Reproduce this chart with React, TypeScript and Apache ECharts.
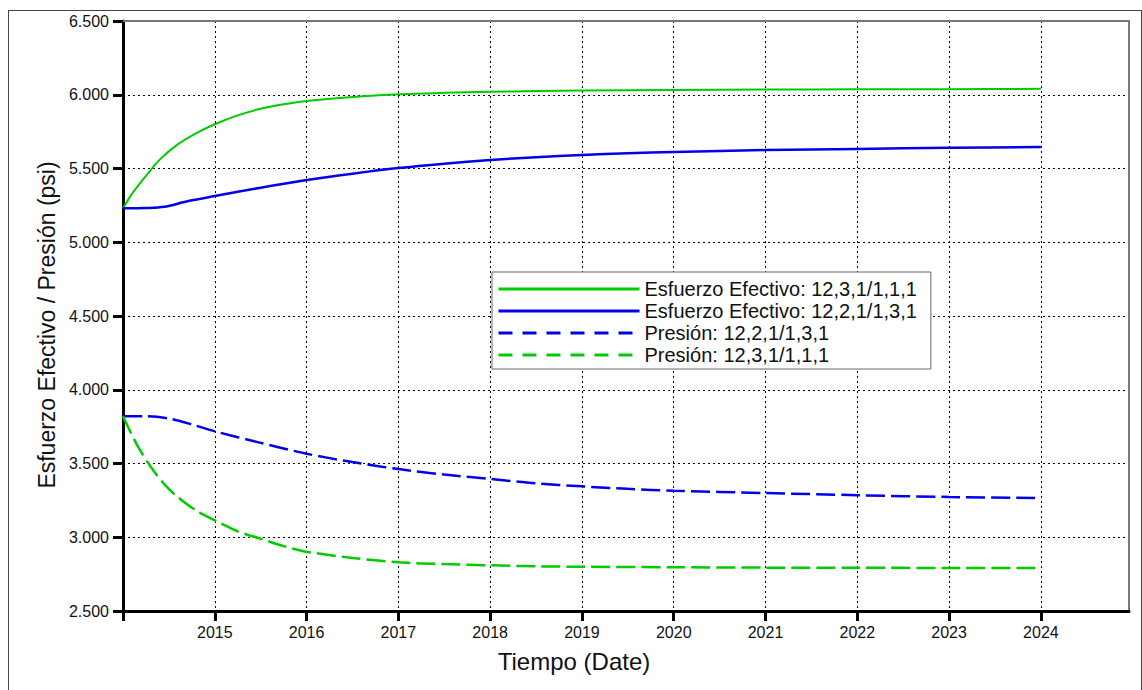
import React, { useEffect, useRef } from "react";
import * as echarts from "echarts";

const GREEN = "#00cc00";
const BLUE = "#0000ee";

const yearTicks = [2014, 2015, 2016, 2017, 2018, 2019, 2020, 2021, 2022, 2023, 2024];

const seriesNames = [
  "Esfuerzo Efectivo: 12,3,1/1,1,1",
  "Esfuerzo Efectivo: 12,2,1/1,3,1",
  "Presión: 12,2,1/1,3,1",
  "Presión: 12,3,1/1,1,1",
];

// [year, psi]
const esfuerzoGreen: [number, number][] = [
  [2014.0, 5230], [2014.1, 5330], [2014.25, 5450], [2014.4, 5560], [2014.6, 5665],
  [2014.8, 5740], [2015.0, 5800], [2015.25, 5860], [2015.5, 5905], [2015.75, 5935],
  [2016.0, 5958], [2016.5, 5985], [2017.0, 6003], [2017.5, 6013], [2018.0, 6020],
  [2018.5, 6025], [2019.0, 6028], [2020.0, 6032], [2021.0, 6035], [2022.0, 6037],
  [2023.0, 6038], [2024.0, 6040],
];

const esfuerzoBlue: [number, number][] = [
  [2014.0, 5230], [2014.25, 5232], [2014.45, 5240], [2014.7, 5278], [2015.0, 5313],
  [2015.5, 5370], [2016.0, 5422], [2016.5, 5465], [2017.0, 5503], [2017.5, 5533],
  [2018.0, 5558], [2018.5, 5577], [2019.0, 5592], [2019.5, 5603], [2020.0, 5612],
  [2021.0, 5625], [2022.0, 5633], [2023.0, 5640], [2024.0, 5646],
];

const presionBlue: [number, number][] = [
  [2014.0, 3820], [2014.25, 3820], [2014.5, 3805], [2014.75, 3765], [2015.0, 3718],
  [2015.5, 3640], [2016.0, 3566], [2016.5, 3510], [2017.0, 3462], [2017.5, 3425],
  [2018.0, 3395], [2018.5, 3365], [2019.0, 3345], [2019.5, 3328], [2020.0, 3315],
  [2021.0, 3300], [2022.0, 3285], [2023.0, 3273], [2024.0, 3266],
];

const presionGreen: [number, number][] = [
  [2014.0, 3820], [2014.15, 3630], [2014.3, 3480], [2014.45, 3360], [2014.6, 3270],
  [2014.8, 3180], [2015.0, 3115], [2015.25, 3040], [2015.5, 2990], [2015.75, 2940],
  [2016.0, 2902], [2016.5, 2860], [2017.0, 2830], [2017.5, 2818], [2018.0, 2810],
  [2018.5, 2803], [2019.0, 2800], [2020.0, 2797], [2021.0, 2794], [2022.0, 2793],
  [2023.0, 2792], [2024.0, 2792],
];

const FONT = "Liberation Sans, Arial, sans-serif";

function fmtThousands(v: number): string {
  const th = Math.floor(v / 1000);
  const rest = Math.round(v % 1000);
  return th + "." + String(rest).padStart(3, "0");
}

export default function App() {
  const ref = useRef<HTMLDivElement>(null);
  useEffect(() => {
    if (!ref.current) return;
    const chart = echarts.init(ref.current, null, { renderer: "svg" });
    const dash = [19, 6];
    const legendDash = [14, 10];
    chart.setOption({
      animation: false,
      grid: {
        left: 123,
        top: 21,
        right: 13,
        bottom: 79,
      },
      legend: {
        orient: "vertical",
        left: 492,
        top: 272,
        padding: [7, 14, 4, 5],
        borderColor: "#666666",
        borderWidth: 1,
        backgroundColor: "#ffffff",
        itemWidth: 141,
        itemHeight: 14,
        itemGap: 2,
        itemStyle: { opacity: 0 },
        textStyle: { fontFamily: FONT, fontSize: 20, color: "#111111", lineHeight: 19 },
        data: [
          { name: seriesNames[0], lineStyle: { width: 3 } },
          { name: seriesNames[1], lineStyle: { width: 3 } },
          { name: seriesNames[2], lineStyle: { width: 3, type: legendDash } },
          { name: seriesNames[3], lineStyle: { width: 3, type: legendDash } },
        ],
      },
      xAxis: [
        {
          type: "value",
          min: 2014,
          max: 2024.96,
          interval: 1,
          name: "Tiempo (Date)",
          nameLocation: "middle",
          nameGap: 38,
          nameTextStyle: {
            fontFamily: FONT,
            fontSize: 24,
            color: "#111111",
            padding: [0, 104, 0, 0],
          },
          axisLine: { show: true, lineStyle: { color: "#000000", width: 3 } },
          axisTick: {
            show: true,
            inside: false,
            length: 10,
            lineStyle: { color: "#000000", width: 3 },
            customValues: yearTicks,
          },
          axisLabel: {
            margin: 13,
            fontFamily: FONT,
            fontSize: 16,
            color: "#111111",
            customValues: yearTicks.slice(1),
            formatter: (v: number) =>
              Math.abs(v - Math.round(v)) < 1e-6 && v > 2014 ? String(Math.round(v)) : "",
          },
          splitLine: { show: true, lineStyle: { color: "#000000", width: 1, type: [2, 3] } },
        },
        {
          type: "value",
          position: "top",
          min: 2014,
          max: 2024.96,
          interval: 1,
          axisLine: { show: true, lineStyle: { color: "#777777", width: 2 } },
          axisTick: { show: false },
          axisLabel: { show: false },
          splitLine: { show: false },
        },
      ],
      yAxis: [
        {
          type: "value",
          min: 2500,
          max: 6500,
          interval: 500,
          name: "Esfuerzo Efectivo / Presión (psi)",
          nameLocation: "middle",
          nameGap: 64,
          nameTextStyle: {
            fontFamily: FONT,
            fontSize: 23,
            color: "#111111",
            padding: [0, 18, 0, 0],
          },
          axisLine: { show: true, lineStyle: { color: "#000000", width: 3 } },
          axisTick: {
            show: true,
            inside: false,
            length: 10,
            lineStyle: { color: "#000000", width: 3 },
          },
          axisLabel: {
            margin: 14,
            fontFamily: FONT,
            fontSize: 16,
            color: "#111111",
            formatter: (v: number) => fmtThousands(v),
          },
          splitLine: { show: true, lineStyle: { color: "#000000", width: 1, type: [2, 3] } },
        },
        {
          type: "value",
          position: "right",
          min: 2500,
          max: 6500,
          interval: 500,
          axisLine: { show: true, lineStyle: { color: "#777777", width: 2 } },
          axisTick: { show: false },
          axisLabel: { show: false },
          splitLine: { show: false },
        },
      ],
      series: [
        {
          name: seriesNames[0],
          type: "line",
          data: esfuerzoGreen,
          smooth: 0.3,
          symbol: "none",
          lineStyle: { color: GREEN, width: 2 },
          itemStyle: { color: GREEN },
        },
        {
          name: seriesNames[1],
          type: "line",
          data: esfuerzoBlue,
          smooth: 0.3,
          symbol: "none",
          lineStyle: { color: BLUE, width: 2.5 },
          itemStyle: { color: BLUE },
        },
        {
          name: seriesNames[2],
          type: "line",
          data: presionBlue,
          smooth: 0.3,
          symbol: "none",
          lineStyle: { color: BLUE, width: 2.5, type: dash },
          itemStyle: { color: BLUE },
        },
        {
          name: seriesNames[3],
          type: "line",
          data: presionGreen,
          smooth: 0.3,
          symbol: "none",
          lineStyle: { color: GREEN, width: 2.5, type: dash },
          itemStyle: { color: GREEN },
        },
      ],
    });
    return () => chart.dispose();
  }, []);
  return (
    <div style={{ position: "fixed", left: 0, top: 0, width: 1142, height: 690, background: "#ffffff" }}>
      <div
        style={{
          position: "absolute",
          left: 8,
          top: 10,
          width: 1134,
          height: 700,
          boxSizing: "border-box",
          border: "1px solid #444444",
          pointerEvents: "none",
        }}
      />
      <div ref={ref} style={{ position: "absolute", left: 0, top: 0, width: 1142, height: 690 }} />
    </div>
  );
}
